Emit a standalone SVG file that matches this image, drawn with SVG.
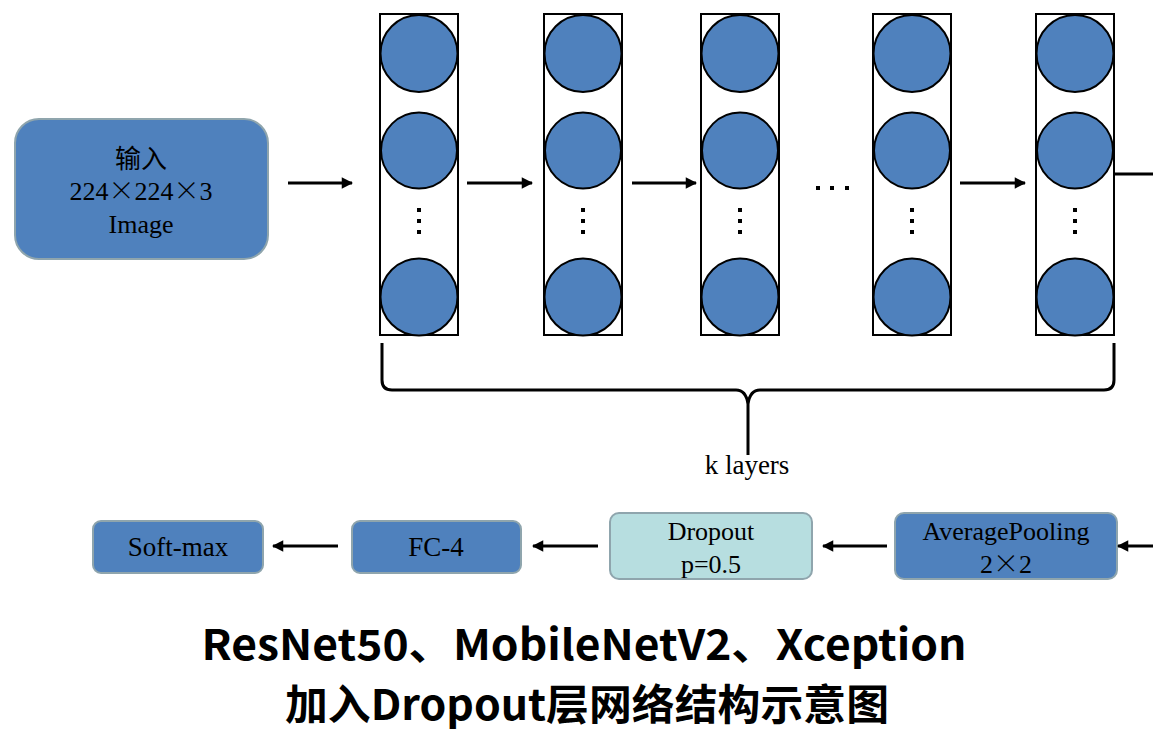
<svg xmlns="http://www.w3.org/2000/svg" width="1153" height="730" viewBox="0 0 1153 730">
<style>
.box{fill:#4F81BD;stroke:#8FA5AD;stroke-width:2}
.lbox{fill:#B7DEE0;stroke:#8FA5AD;stroke-width:2}
.col{fill:#fff;stroke:#000;stroke-width:2}
.neu{fill:#4F81BD;stroke:#000;stroke-width:2}
.t{font-family:"Liberation Serif","Times New Roman","Noto Sans CJK SC",serif;font-size:27px;fill:#000;text-anchor:middle}
.m{font-size:26px}
.x{font-family:"Noto Sans CJK SC",sans-serif;font-weight:300}
.ln{stroke:#000;stroke-width:3;fill:none}
.title{font-family:"Noto Sans CJK SC","Microsoft YaHei",sans-serif;font-weight:bold;font-size:42px;fill:#000;text-anchor:middle}
</style>
<defs>
<marker id="ah" viewBox="0 0 10 10" refX="9" refY="5" markerWidth="4" markerHeight="3.8" markerUnits="strokeWidth" orient="auto">
<path d="M0,0 L10,5 L0,10 z" fill="#000"/>
</marker>
<g id="colshape">
<rect class="col" x="-39" y="14" width="78" height="321"/>
<circle class="neu" cx="0" cy="53.5" r="38.5"/>
<circle class="neu" cx="0" cy="150.5" r="38"/>
<circle class="neu" cx="0" cy="297" r="38.5"/>
<rect x="-2" y="208" width="4" height="4" fill="#000"/>
<rect x="-2" y="219" width="4" height="4" fill="#000"/>
<rect x="-2" y="230" width="4" height="4" fill="#000"/>
</g>
</defs>

<g id="input">
<rect class="box" x="15" y="119" width="253" height="140" rx="24"/>
<text class="t m" x="141" y="168">输入</text>
<text class="t m" x="141" y="200">224<tspan class="x">×</tspan>224<tspan class="x">×</tspan>3</text>
<text class="t m" x="141" y="233">Image</text>
</g>

<g id="layer1"><use href="#colshape" x="419"/></g>
<g id="layer2"><use href="#colshape" x="583"/></g>
<g id="layer3"><use href="#colshape" x="740"/></g>
<g id="layer4"><use href="#colshape" x="912"/></g>
<g id="layer5"><use href="#colshape" x="1075"/></g>

<g id="ellipsis">
<rect x="816" y="186" width="4" height="4" fill="#000"/>
<rect x="830" y="186" width="4" height="4" fill="#000"/>
<rect x="845" y="186" width="4" height="4" fill="#000"/>
</g>

<g id="brace">
<path class="ln" d="M382,343 L382,380 Q382,390 392,390 L736,390 Q746,390 748,404 L748,455 M748,404 Q750,390 760,390 L1104,390 Q1114,390 1114,380 L1114,343"/>
<text class="t" x="747" y="474">k layers</text>
</g>

<g id="avgpool">
<rect class="box" x="895" y="513" width="222" height="66" rx="9"/>
<text class="t m" x="1006" y="540">AveragePooling</text>
<text class="t m" x="1006" y="573">2<tspan class="x">×</tspan>2</text>
</g>
<g id="dropout">
<rect class="lbox" x="610" y="513" width="202" height="66" rx="9"/>
<text class="t m" x="711" y="540">Dropout</text>
<text class="t m" x="711" y="573">p=0.5</text>
</g>
<g id="fc4">
<rect class="box" x="352" y="521" width="169" height="52" rx="8"/>
<text class="t" x="436" y="556">FC-4</text>
</g>
<g id="softmax">
<rect class="box" x="93" y="521" width="170" height="52" rx="8"/>
<text class="t" x="178" y="556">Soft-max</text>
</g>

<g id="connectors">
<line class="ln" x1="288" y1="183" x2="352" y2="183" marker-end="url(#ah)"/>
<line class="ln" x1="467" y1="183" x2="532" y2="183" marker-end="url(#ah)"/>
<line class="ln" x1="632" y1="183" x2="696" y2="183" marker-end="url(#ah)"/>
<line class="ln" x1="960" y1="183" x2="1025" y2="183" marker-end="url(#ah)"/>
<line class="ln" x1="1114" y1="174" x2="1153" y2="174"/>
<line class="ln" x1="1153" y1="546" x2="1118" y2="546" marker-end="url(#ah)"/>
<line class="ln" x1="887" y1="546" x2="823" y2="546" marker-end="url(#ah)"/>
<line class="ln" x1="598" y1="546" x2="533" y2="546" marker-end="url(#ah)"/>
<line class="ln" x1="338" y1="546" x2="273" y2="546" marker-end="url(#ah)"/>
</g>

<g id="title">
<text class="title" x="584" y="660" textLength="765" lengthAdjust="spacingAndGlyphs">ResNet50、MobileNetV2、Xception</text>
<text class="title" x="587" y="720" textLength="604" lengthAdjust="spacingAndGlyphs">加入Dropout层网络结构示意图</text>
</g>
</svg>
